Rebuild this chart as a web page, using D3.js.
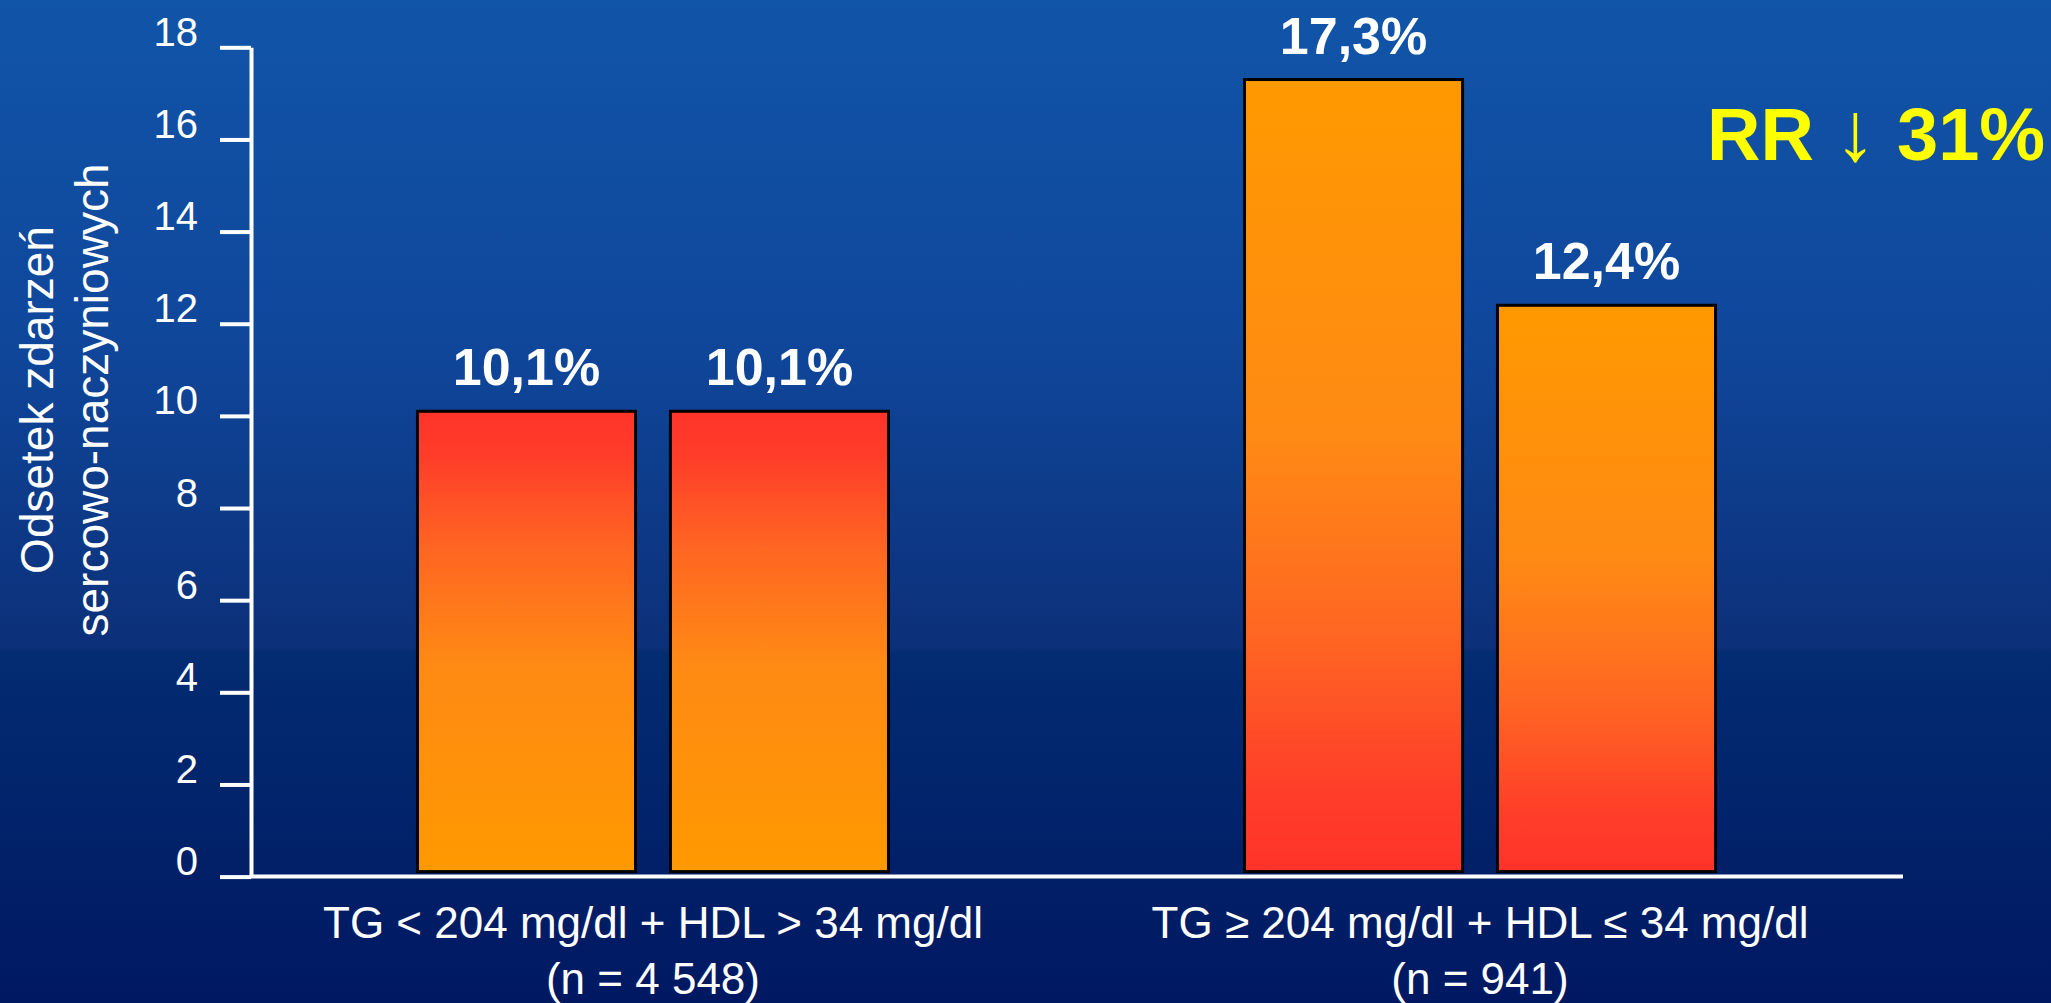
<!DOCTYPE html>
<html lang="pl">
<head>
<meta charset="utf-8">
<title>Odsetek zdarzeń sercowo-naczyniowych</title>
<script src="https://cdn.jsdelivr.net/npm/d3@7"></script>
<style>
  html, body { margin: 0; padding: 0; overflow: hidden; background: #0a2a78; }
  svg { display: block; }
  text { font-family: "Liberation Sans", Arial, Helvetica, sans-serif; }
</style>
</head>
<body>
<svg id="chart" width="2051" height="1003"></svg>
<script>
// ---- data ----
const groupLabels = ["TG < 204 mg/dl + HDL > 34 mg/dl", "TG \u2265 204 mg/dl + HDL \u2264 34 mg/dl"];
const groupCounts = ["(n = 4 548)", "(n = 941)"];
const seriesKeys = ["a", "b"];
const seriesA = [10.1, 17.3];
const seriesB = [10.1, 12.4];
const yTicks = [0, 2, 4, 6, 8, 10, 12, 14, 16, 18];
const yTitleLines = ["Odsetek zdarzeń", "sercowo-naczyniowych"];
const rrParts = ["RR ", "\u2193", " 31%"];

// ---- layout ----
const W = 2051, H = 1003;
const axisX = 251;
const plotTop = 47.3, plotBottom = 876.6;
const baselineEnd = 1903;

const svg = d3.select("#chart");

// background: vertical blue gradient
const defs = svg.append("defs");
const bg = defs.append("linearGradient").attr("id", "bg")
  .attr("x1", 0).attr("y1", 0).attr("x2", 0).attr("y2", 1);
[[0, "#1155a8"], [0.35, "#0f469a"], [0.645, "#0c3079"], [0.652, "#032c72"], [1, "#001862"]]
  .forEach(([o, c]) => bg.append("stop").attr("offset", o).attr("stop-color", c));
svg.append("rect").attr("width", W).attr("height", H).attr("fill", "url(#bg)");

// bar gradients: red-to-orange for the first group, orange-to-red for the second
const redTop = defs.append("linearGradient").attr("id", "redTop")
  .attr("x1", 0).attr("y1", 0).attr("x2", 0).attr("y2", 1);
[[0, "#ff3329"], [0.1, "#ff3d29"], [0.3, "#ff6622"], [0.55, "#ff8a14"], [1, "#ff9900"]]
  .forEach(([o, c]) => redTop.append("stop").attr("offset", o).attr("stop-color", c));
const orangeTop = defs.append("linearGradient").attr("id", "orangeTop")
  .attr("x1", 0).attr("y1", 0).attr("x2", 0).attr("y2", 1);
[[0, "#ff9900"], [0.45, "#ff8a14"], [0.7, "#ff6622"], [0.9, "#ff3d29"], [1, "#ff3329"]]
  .forEach(([o, c]) => orangeTop.append("stop").attr("offset", o).attr("stop-color", c));
const groupFill = ["url(#redTop)", "url(#orangeTop)"];

// ---- scales ----
const y = d3.scaleLinear().domain([0, 18]).range([plotBottom, plotTop]);
const x0 = d3.scaleBand().domain(groupLabels).range([239.5, 1893.5])
  .paddingInner(0.4305).paddingOuter(0.2152);
const x1 = d3.scaleBand().domain(seriesKeys).range([0, x0.bandwidth()])
  .paddingInner(0.138);

const rows = groupLabels.map((g, i) => ({
  group: g, gi: i,
  bars: [{ key: "a", value: seriesA[i] }, { key: "b", value: seriesB[i] }]
}));

const fmt = v => d3.format(".1f")(v).replace(".", ",") + "%";

// ---- bars ----
const gGroups = svg.append("g").selectAll("g").data(rows).join("g")
  .attr("transform", d => `translate(${x0(d.group)},0)`);

gGroups.selectAll("rect").data(d => d.bars.map(b => ({ ...b, gi: d.gi }))).join("rect")
  .attr("x", d => x1(d.key))
  .attr("y", d => y(d.value))
  .attr("width", x1.bandwidth())
  .attr("height", d => y(0) - 5 - y(d.value))
  .attr("fill", d => groupFill[d.gi])
  .attr("stroke", "#000")
  .attr("stroke-width", 3);

gGroups.selectAll("text.val").data(d => d.bars).join("text")
  .attr("class", "val")
  .attr("x", d => x1(d.key) + x1.bandwidth() / 2)
  .attr("y", d => y(d.value) - 26)
  .attr("text-anchor", "middle")
  .attr("fill", "#fff")
  .attr("font-weight", "bold")
  .attr("font-size", 52)
  .text(d => fmt(d.value));

// ---- y axis ----
const yAxis = svg.append("g").attr("transform", `translate(${axisX},0)`)
  .call(d3.axisLeft(y).tickValues(yTicks).tickSize(31).tickSizeOuter(0).tickPadding(22));
yAxis.select(".domain").attr("stroke", "#fff").attr("stroke-width", 4);
yAxis.selectAll(".tick line").attr("stroke", "#fff").attr("stroke-width", 4);
yAxis.selectAll(".tick text")
  .attr("fill", "#fff").attr("font-size", 40).attr("dy", "-0.05em")
  .attr("font-family", "'Liberation Sans', Arial, sans-serif");

// x baseline
svg.append("line")
  .attr("x1", axisX).attr("x2", baselineEnd)
  .attr("y1", y(0)).attr("y2", y(0))
  .attr("stroke", "#fff").attr("stroke-width", 4);

// ---- group labels under the axis ----
const gl = svg.append("g").selectAll("text").data(rows).join("text")
  .attr("text-anchor", "middle")
  .attr("fill", "#fff")
  .attr("font-size", 44);
gl.append("tspan")
  .attr("x", d => x0(d.group) + x0.bandwidth() / 2)
  .attr("y", 938)
  .text(d => d.group);
gl.append("tspan")
  .attr("x", d => x0(d.group) + x0.bandwidth() / 2)
  .attr("y", 994)
  .text(d => groupCounts[d.gi]);

// ---- y axis title (two rotated lines) ----
const yt = svg.append("text")
  .attr("transform", "translate(0,400) rotate(-90)")
  .attr("text-anchor", "middle")
  .attr("fill", "#fff")
  .attr("font-size", 46);
yt.selectAll("tspan").data(yTitleLines).join("tspan")
  .attr("x", 0)
  .attr("y", (d, i) => 53 + i * 55)
  .text(d => d);

// ---- relative risk annotation ----
const rr = svg.append("text")
  .attr("x", 1707).attr("y", 160)
  .attr("fill", "#ffff00")
  .attr("font-size", 74)
  .attr("font-weight", "bold");
rr.selectAll("tspan").data(rrParts).join("tspan")
  .attr("font-weight", (d, i) => i === 1 ? "normal" : "bold")
  .attr("font-size", (d, i) => i === 1 ? 84 : 74)
  .text(d => d);
</script>
</body>
</html>
